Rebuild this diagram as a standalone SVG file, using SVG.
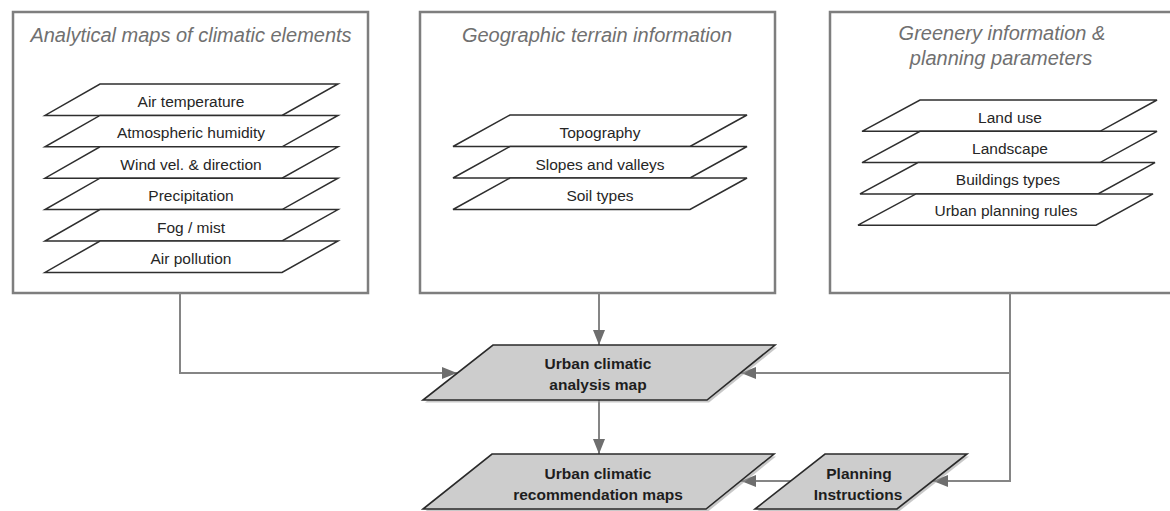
<svg xmlns="http://www.w3.org/2000/svg" width="1170" height="511" viewBox="0 0 1170 511">
  <style>
    .panel { fill: #ffffff; stroke: #7e7e7e; stroke-width: 2.5; }
    .title { font-family: "Liberation Sans", Arial, sans-serif; font-style: italic; font-size: 20px; fill: #707070; text-anchor: middle; }
    .layer { fill: #ffffff; stroke: #2e2e2e; stroke-width: 1.5; stroke-linejoin: miter; }
    .layer-label { font-family: "Liberation Sans", Arial, sans-serif; font-size: 15.5px; fill: #262626; text-anchor: middle; }
    .map { fill: #cdcdcd; stroke: #2a2a2a; stroke-width: 1.6; }
    .map-shadow { fill: #9a9a9a; opacity: 0.55; }
    .map-label { font-family: "Liberation Sans", Arial, sans-serif; font-weight: bold; font-size: 15.5px; fill: #1e1e1e; text-anchor: middle; }
    .link { fill: none; stroke: #858585; stroke-width: 2; }
  </style>
  <defs>
    <marker id="arrow" markerUnits="userSpaceOnUse" markerWidth="16" markerHeight="12" refX="15" refY="6" orient="auto">
      <path d="M0,0 L15,6 L0,12 z" fill="#6e6e6e"/>
    </marker>
  </defs>

  <rect width="1170" height="511" fill="#ffffff"/>

  <!-- Panel 1: climatic element maps -->
  <g id="climatic-elements">
    <rect class="panel" x="13" y="12" width="355" height="281"/>
    <text class="title" x="191" y="42">Analytical maps of climatic elements</text>
    <polygon class="layer" points="100,84 338,84 282,115.4 45,115.4"/>
    <text class="layer-label" x="191" y="107">Air temperature</text>
    <polygon class="layer" points="100,115.4 338,115.4 282,146.8 45,146.8"/>
    <text class="layer-label" x="191" y="138.4">Atmospheric humidity</text>
    <polygon class="layer" points="100,146.8 338,146.8 282,178.2 45,178.2"/>
    <text class="layer-label" x="191" y="169.8">Wind vel. &amp; direction</text>
    <polygon class="layer" points="100,178.2 338,178.2 282,209.6 45,209.6"/>
    <text class="layer-label" x="191" y="201.2">Precipitation</text>
    <polygon class="layer" points="100,209.6 338,209.6 282,241 45,241"/>
    <text class="layer-label" x="191" y="232.6">Fog / mist</text>
    <polygon class="layer" points="100,241 338,241 282,272.4 45,272.4"/>
    <text class="layer-label" x="191" y="264">Air pollution</text>
  </g>

  <!-- Panel 2: terrain -->
  <g id="terrain">
    <rect class="panel" x="420" y="12" width="355" height="281"/>
    <text class="title" x="597" y="42">Geographic terrain information</text>
    <polygon class="layer" points="510,115 747,115 690,146.5 453,146.5"/>
    <text class="layer-label" x="600" y="138">Topography</text>
    <polygon class="layer" points="510,146.5 747,146.5 690,178 453,178"/>
    <text class="layer-label" x="600" y="169.5">Slopes and valleys</text>
    <polygon class="layer" points="510,178 747,178 690,209.5 453,209.5"/>
    <text class="layer-label" x="600" y="201">Soil types</text>
  </g>

  <!-- Panel 3: greenery and planning -->
  <g id="greenery-planning">
    <rect class="panel" x="830" y="12" width="350" height="281"/>
    <text class="title" x="1002" y="40">Greenery information &amp;</text>
    <text class="title" x="1001" y="65">planning parameters</text>
    <polygon class="layer" points="920,100 1157,100 1100,131.3 862,131.3"/>
    <text class="layer-label" x="1010" y="122.5">Land use</text>
    <polygon class="layer" points="920,131.3 1157,131.3 1100,162.6 862,162.6"/>
    <text class="layer-label" x="1010" y="153.8">Landscape</text>
    <polygon class="layer" points="918,162.6 1155,162.6 1098,193.9 860,193.9"/>
    <text class="layer-label" x="1008" y="185.1">Buildings types</text>
    <polygon class="layer" points="916,193.9 1153,193.9 1096,225.2 858,225.2"/>
    <text class="layer-label" x="1006" y="216.4">Urban planning rules</text>
  </g>

  <!-- Connectors -->
  <g id="connectors">
    <polyline class="link" points="180,293 180,373 457,373" marker-end="url(#arrow)"/>
    <line class="link" x1="599" y1="293" x2="599" y2="345" marker-end="url(#arrow)"/>
    <line class="link" x1="599" y1="400" x2="599" y2="454" marker-end="url(#arrow)"/>
    <polyline class="link" points="1010,293 1010,373 741,373" marker-end="url(#arrow)"/>
    <polyline class="link" points="1010,373 1010,481 933,481" marker-end="url(#arrow)"/>
    <line class="link" x1="791" y1="481" x2="741" y2="481" marker-end="url(#arrow)"/>
  </g>

  <!-- Analysis map -->
  <g id="analysis-map">
    <polygon class="map-shadow" points="495,347.5 777,347.5 709,402.5 425,402.5"/>
    <polygon class="map" points="493,345 775,345 707,400 423,400"/>
    <text class="map-label" x="598" y="369">Urban climatic</text>
    <text class="map-label" x="598" y="390">analysis map</text>
  </g>

  <!-- Recommendation maps -->
  <g id="recommendation-maps">
    <polygon class="map-shadow" points="494,456.5 776,456.5 708,511.5 425,511.5"/>
    <polygon class="map" points="492,454 774,454 706,509 423,509"/>
    <text class="map-label" x="598" y="479">Urban climatic</text>
    <text class="map-label" x="598" y="500">recommendation maps</text>
  </g>

  <!-- Planning instructions -->
  <g id="planning-instructions">
    <polygon class="map-shadow" points="827,456.5 969,456.5 899,511.5 757,511.5"/>
    <polygon class="map" points="825,454 967,454 897,509 755,509"/>
    <text class="map-label" x="859" y="479">Planning</text>
    <text class="map-label" x="858" y="500">Instructions</text>
  </g>
</svg>
